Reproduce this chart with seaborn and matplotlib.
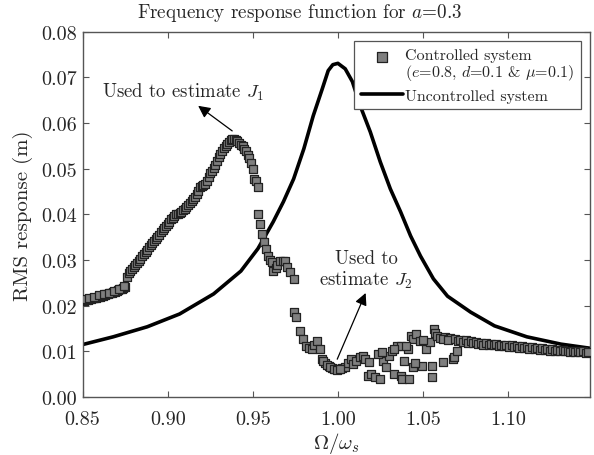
import matplotlib
matplotlib.use("Agg")
import matplotlib.pyplot as plt
import seaborn as sns
import pandas as pd
from matplotlib.legend_handler import HandlerPathCollection
from matplotlib.collections import PathCollection

# ---------------- data ----------------
unc_x = [0.850, 0.868, 0.888, 0.907, 0.927, 0.943, 0.953, 0.957, 0.962, 0.968,
         0.974, 0.980, 0.9855, 0.9908, 0.9943, 0.9970, 1.0000, 1.0043, 1.0085, 1.0131,
         1.0190, 1.0249, 1.0308, 1.0368, 1.0427, 1.0485, 1.0561, 1.0644, 1.0780, 1.092,
         1.111, 1.131, 1.150]
unc_y = [0.0115, 0.0132, 0.0154, 0.0182, 0.0226, 0.0276, 0.0325, 0.0351, 0.0384, 0.0428,
         0.0478, 0.0544, 0.0616, 0.0675, 0.0715, 0.0728, 0.0731, 0.0719, 0.0691, 0.0638,
         0.0581, 0.0515, 0.0456, 0.0406, 0.0353, 0.0309, 0.0259, 0.0221, 0.0186, 0.0156,
         0.0132, 0.0116, 0.0106]

ctrl_x = [
    # low-frequency branch
    0.850, 0.851, 0.852, 0.853, 0.854, 0.855, 0.856, 0.857, 0.858, 0.859,
    0.860, 0.861, 0.862, 0.863, 0.864, 0.865, 0.866, 0.867, 0.868, 0.869,
    0.870, 0.871, 0.872, 0.873, 0.874, 0.875,
    0.8505, 0.8535, 0.8565, 0.8595, 0.8625, 0.8655, 0.8685, 0.8715, 0.8745,
    0.876, 0.877, 0.878, 0.879, 0.880, 0.881, 0.882, 0.883, 0.884, 0.885,
    0.886, 0.887, 0.888, 0.889, 0.890, 0.891, 0.892, 0.893, 0.894, 0.895,
    0.896, 0.897, 0.898, 0.899, 0.900, 0.901, 0.902, 0.903, 0.904, 0.905,
    0.906, 0.907, 0.908, 0.909, 0.910, 0.911, 0.912, 0.913, 0.914, 0.915,
    0.916, 0.917, 0.918, 0.919, 0.920, 0.921, 0.922, 0.923, 0.924, 0.925,
    0.926, 0.927, 0.928, 0.929, 0.930, 0.931, 0.932, 0.933, 0.934, 0.935,
    0.936, 0.937, 0.938, 0.939, 0.940, 0.941, 0.942, 0.943, 0.944, 0.945,
    0.946, 0.947, 0.948, 0.949, 0.950, 0.951, 0.952, 0.953,
    # drop
    0.9532, 0.9543, 0.9552, 0.9568, 0.9580, 0.9588, 0.9600, 0.9613, 0.9620, 0.9635,
    0.9645, 0.9660, 0.9675, 0.9690, 0.9700, 0.9720, 0.9740,
    0.9745, 0.9755, 0.9775, 0.9795, 0.9815, 0.9830, 0.9845, 0.9860, 0.9875, 0.9893,
    0.9905, 0.9925, 0.9945, 0.9965, 0.9985, 1.0005, 1.0025, 1.0040, 1.0058, 1.0075,
    0.9915, 0.9935, 0.9955, 0.9975, 0.9995, 1.0015,
    # scattered region
    1.0090, 1.0105, 1.0130, 1.0145, 1.0160, 1.0180, 1.0175, 1.0195, 1.0215, 1.0245,
    1.0262, 1.0285, 1.0300, 1.0315, 1.0330, 1.0345, 1.0368, 1.0368, 1.0375, 1.0390,
    1.0410, 1.0420, 1.0427, 1.0440, 1.0440, 1.0460, 1.0480, 1.0495, 1.0520, 1.0540,
    1.0550, 1.0555, 1.0565, 1.0573, 1.0580, 1.0600, 1.0620, 1.0630, 1.0660, 1.0675,
    1.0680, 1.0700, 1.0235, 1.0260, 1.0330, 1.0400, 1.0450, 1.0500,
    # high-frequency band
    1.0615, 1.0645, 1.0690, 1.0705, 1.0720, 1.0735, 1.0750, 1.0765, 1.0780, 1.0795,
    1.0810, 1.0825, 1.0840, 1.0855, 1.0870, 1.0885, 1.0900, 1.0915, 1.0930, 1.0945,
    1.0960, 1.0975, 1.0990, 1.1005, 1.1020, 1.1035, 1.1050, 1.1065, 1.1080, 1.1095,
    1.1110, 1.1125, 1.1140, 1.1155, 1.1170, 1.1185, 1.1200, 1.1215, 1.1230, 1.1245,
    1.1260, 1.1275, 1.1290, 1.1305, 1.1320, 1.1335, 1.1350, 1.1365, 1.1380, 1.1395,
    1.1410, 1.1425, 1.1440, 1.1455, 1.1470,
]
ctrl_y = [
    0.0210, 0.0211, 0.0212, 0.0213, 0.0214, 0.0215, 0.0216, 0.0217, 0.0218, 0.0219,
    0.0220, 0.0221, 0.0222, 0.0223, 0.0225, 0.0226, 0.0227, 0.0229, 0.0230, 0.0231,
    0.0233, 0.0234, 0.0236, 0.0237, 0.0239, 0.0242,
    0.0214, 0.0217, 0.0220, 0.0223, 0.0226, 0.0229, 0.0233, 0.0237, 0.0243,
    0.0262, 0.0272, 0.0276, 0.0281, 0.0285, 0.0289, 0.0294, 0.0298, 0.0303, 0.0308,
    0.0313, 0.0318, 0.0323, 0.0328, 0.0333, 0.0337, 0.0342, 0.0347, 0.0351, 0.0356,
    0.0361, 0.0365, 0.0370, 0.0375, 0.0380, 0.0384, 0.0389, 0.0393, 0.0397, 0.0400,
    0.0402, 0.0404, 0.0406, 0.0409, 0.0413, 0.0417, 0.0421, 0.0426, 0.0430, 0.0434,
    0.0439, 0.0444, 0.0452, 0.0460, 0.0462, 0.0464, 0.0467, 0.0474, 0.0482, 0.0490,
    0.0495, 0.0501, 0.0509, 0.0517, 0.0525, 0.0533, 0.0539, 0.0545, 0.0550, 0.0555,
    0.0559, 0.0562, 0.0565, 0.0565, 0.0563, 0.0560, 0.0557, 0.0553, 0.0549, 0.0544,
    0.0538, 0.0531, 0.0524, 0.0513, 0.0500, 0.0478, 0.0474, 0.0461,
    0.0401, 0.0380, 0.0357, 0.0340, 0.0325, 0.0310, 0.0300, 0.0296, 0.0276, 0.0282,
    0.0290, 0.0298, 0.0298, 0.0298, 0.0285, 0.0274, 0.0259,
    0.0186, 0.0175, 0.0145, 0.0127, 0.0112, 0.0108, 0.0105, 0.0115, 0.0123, 0.0105,
    0.0083, 0.0075, 0.0068, 0.0064, 0.0061, 0.0061, 0.0063, 0.0066, 0.0075, 0.0083,
    0.0079, 0.0071, 0.0066, 0.0062, 0.0060, 0.0062,
    0.0072, 0.0078, 0.0088, 0.0090, 0.0083, 0.0077, 0.0046, 0.0050, 0.0044, 0.0040,
    0.0079, 0.0066, 0.0090, 0.0101, 0.0050, 0.0112, 0.0112, 0.0046, 0.0040, 0.0079,
    0.0105, 0.0040, 0.0134, 0.0066, 0.0127, 0.0138, 0.0123, 0.0068, 0.0105, 0.0120,
    0.0044, 0.0068, 0.0149, 0.0140, 0.0133, 0.0130, 0.0077, 0.0131, 0.0129, 0.0083,
    0.0088, 0.0101, 0.0095, 0.0099, 0.0106, 0.0112, 0.0075, 0.0125,
    0.0128, 0.0126, 0.0127, 0.0122, 0.0125, 0.0121, 0.0124, 0.0119, 0.0122, 0.0118,
    0.0121, 0.0117, 0.0119, 0.0115, 0.0118, 0.0114, 0.0117, 0.0113, 0.0116, 0.0112,
    0.0115, 0.0111, 0.0114, 0.0110, 0.0113, 0.0109, 0.0112, 0.0108, 0.0111, 0.0107,
    0.0110, 0.0106, 0.0109, 0.0105, 0.0108, 0.0104, 0.0107, 0.0103, 0.0106, 0.0102,
    0.0105, 0.0101, 0.0104, 0.0100, 0.0103, 0.0100, 0.0102, 0.0099, 0.0101, 0.0098,
    0.0100, 0.0098, 0.0100, 0.0097, 0.0099,
]

x_ticks = [0.85, 0.90, 0.95, 1.00, 1.05, 1.10]
x_tick_labels = ["0.85", "0.90", "0.95", "1.00", "1.05", "1.10"]
y_ticks = [0.00, 0.01, 0.02, 0.03, 0.04, 0.05, 0.06, 0.07, 0.08]
y_tick_labels = ["0.00", "0.01", "0.02", "0.03", "0.04", "0.05", "0.06", "0.07", "0.08"]

# ---------------- style ----------------
sns.set_style("ticks")
plt.rcParams["font.family"] = ["cmr10", "DejaVu Serif"]
plt.rcParams["mathtext.fontset"] = "cm"
plt.rcParams["axes.formatter.use_mathtext"] = True
plt.rcParams["axes.unicode_minus"] = False

fig = plt.figure(figsize=(5.94, 4.56), dpi=100)
ax = fig.add_axes([0.139, 0.127, 0.854, 0.801])

ctrl_df = pd.DataFrame({"x": ctrl_x, "y": ctrl_y})
unc_df = pd.DataFrame({"x": unc_x, "y": unc_y})

sns.scatterplot(data=ctrl_df, x="x", y="y", ax=ax, marker="s", s=30,
                color="#7f7f7f", edgecolor="#222222", linewidth=0.9,
                label="Controlled system\n($e$=0.8, $d$=0.1 & $\\mu$=0.1)", zorder=3)
sns.lineplot(data=unc_df, x="x", y="y", ax=ax, color="black", linewidth=2.6,
             label="Uncontrolled system", zorder=2)

ax.set_xlim(0.85, 1.148)
ax.set_ylim(0.0, 0.08)
ax.set_xticks(x_ticks)
ax.set_xticklabels(x_tick_labels)
ax.set_yticks(y_ticks)
ax.set_yticklabels(y_tick_labels)
ax.tick_params(direction="in", top=True, right=True, labelsize=14.5, length=4,
               width=0.8, color="#555555", pad=4)
ax.tick_params(axis="x", pad=9)
for s in ax.spines.values():
    s.set_color("#555555")
    s.set_linewidth(1.0)

ax.set_xlabel(r"$\Omega/\omega_s$", fontsize=15, labelpad=2)
ax.set_ylabel("RMS response (m)", fontsize=15, labelpad=6)
fig.text(0.505, 0.971, "Frequency response function for $a$=0.3", ha="center",
         va="center", fontsize=13.8)

arrow_kw = dict(arrowstyle="-|>", color="black", lw=0.9, mutation_scale=18,
                shrinkA=0, shrinkB=0)
ax.text(0.909, 0.0669, "Used to estimate $J_1$", ha="center", va="center",
        fontsize=13.5)
ax.annotate("", xy=(0.9179, 0.0638), xytext=(0.9379, 0.0583), arrowprops=arrow_kw)
ax.text(1.0165, 0.0279, "Used to\nestimate $J_2$", ha="center", va="center",
        fontsize=13.5, linespacing=1.15)
ax.annotate("", xy=(1.0163, 0.0228), xytext=(0.9996, 0.0083), arrowprops=arrow_kw)


class CenteredMarkerHandler(HandlerPathCollection):
    def get_xdata(self, legend, xdescent, ydescent, width, height, fontsize):
        return [-xdescent, -xdescent + width], [-xdescent + 0.5 * width]


leg = ax.legend(loc="upper right", fontsize=11.5, frameon=True, fancybox=False,
                edgecolor="#555555", framealpha=1, borderpad=0.42,
                handlelength=2.6, handletextpad=0.15, labelspacing=0.38,
                borderaxespad=0.55, markerscale=1.3,
                handler_map={PathCollection: CenteredMarkerHandler(yoffsets=[1.2])})
leg.get_frame().set_linewidth(0.9)
for t in leg.get_texts():
    t.set_linespacing(1.05)

fig.savefig("out.png", dpi=100)
